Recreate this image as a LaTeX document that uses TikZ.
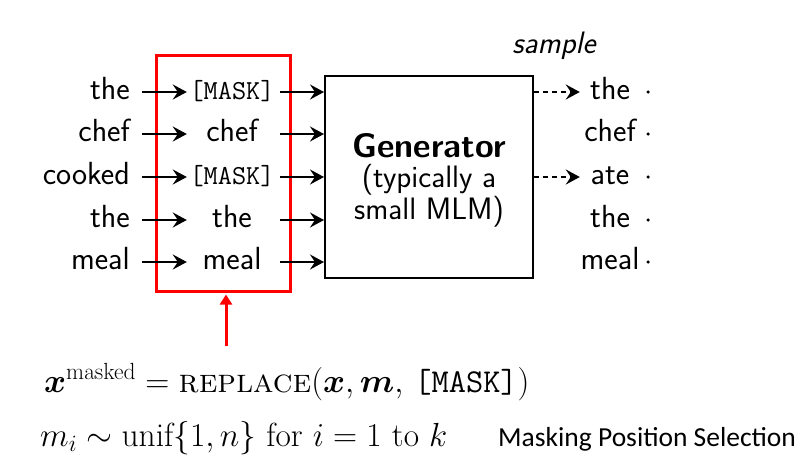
\RequirePackage{fix-cm}
\documentclass[tikz,border=0pt]{standalone}
\usepackage{amsmath}
\usepackage{fontspec}
\newfontfamily\carl{Carlito}
\usetikzlibrary{arrows.meta}
\newcommand{\masktok}{{\fontsize{27.5}{29}\selectfont\ttfamily [MASK]}}
\begin{document}
\begin{tikzpicture}[x=1pt,y=-1pt,
  word/.style={font=\fontsize{32}{34}\selectfont\sffamily, inner sep=0pt, text height=22pt, text depth=7pt},
  lword/.style={word, anchor=east},
  mword/.style={word, anchor=center, minimum width=90pt},
  rword/.style={word, anchor=center, minimum width=60pt},
  arr/.style={line width=2.3pt, -{Stealth[length=14pt,width=15pt,inset=5pt]}},
  darr/.style={arr, dash pattern=on 5pt off 4pt},
  dotm/.style={circle, fill=black, inner sep=0pt, minimum size=3.5pt},
  eq/.style={font=\fontsize{33.4}{35}\selectfont, inner sep=0pt, anchor=base west}
]
\useasboundingbox (0,0) rectangle (802,472);

% red box
\node[draw=red, line width=3pt, minimum width=134pt, minimum height=236pt, inner sep=0pt] (rb) at (223,173) {};

% generator
\node[draw=black, line width=2pt, minimum width=208pt, minimum height=202pt, inner sep=0pt, align=center,
      font=\fontsize{31}{24}\selectfont\sffamily] (gen) at (429,177)
  {\rule{0pt}{30pt}{\fontsize{34}{24}\selectfont\bfseries Generator}\\[6pt](typically a\\small MLM)};

% rows
\foreach \i/\y/\l/\m/\r in {1/92/the/\masktok/the, 2/134/chef/chef/chef, 3/177/cooked/\masktok/ate, 4/220/the/the/the, 5/262/meal/meal/meal}{
  \node[lword] (l\i) at (130,\y) {\l};
  \node[mword] (m\i) at (232,\y) {\m};
  \node[rword] (r\i) at (610,\y) {\r};
  \node[dotm] (d\i) at (648,\y) {};
  \draw[arr, shorten <=12pt] (l\i.east) -- (m\i.west);
  \draw[arr, shorten <=3pt] (m\i.east) -- (m\i.east -| gen.west);
}
\draw[darr] (gen.east |- r1) -- (r1.west);
\draw[darr] (gen.east |- r3) -- (r3.west);

\node[font=\fontsize{31}{33}\selectfont\sffamily\itshape, anchor=base, inner sep=0pt] (smp) at (554,53) {sample};

% red arrow
\coordinate (ra) at (226,346);
\draw[red, line width=3pt, -{Triangle[length=10pt,width=12pt]}] (ra) -- ([yshift=-2pt]ra |- rb.south);

% equations
\node[eq] (eq1) at (44,392) {$\boldsymbol{x}^{\text{masked}} = \text{\textsc{replace}}(\boldsymbol{x},\boldsymbol{m},\,\texttt{[MASK]})$};
\node[eq] (eq2) at (40,446) {$m_i \sim \mathrm{unif}\{1,n\}\text{ for } i=1 \text{ to } k$};
\node[font=\fontsize{27.5}{29}\selectfont\carl, inner sep=0pt, anchor=base west] (mps) at (498,446) {Masking Position Selection};
\end{tikzpicture}
\end{document}
